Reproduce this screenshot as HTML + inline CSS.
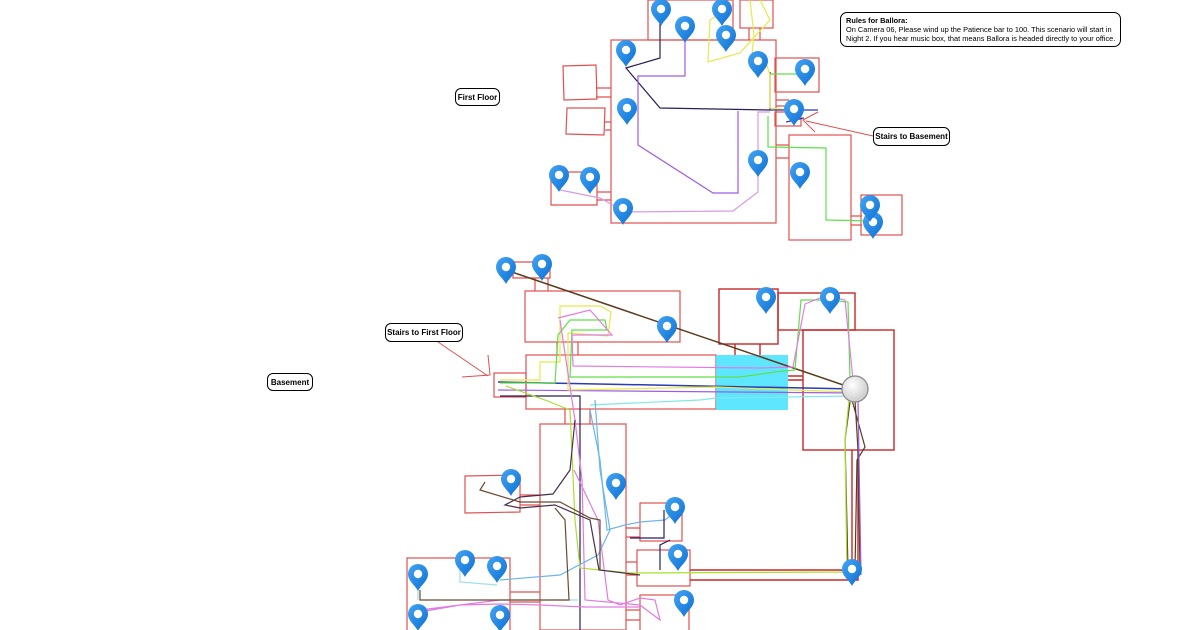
<!DOCTYPE html>
<html><head><meta charset="utf-8"><style>
html,body{margin:0;padding:0;background:#fff;width:1200px;height:630px;overflow:hidden}
svg{display:block}
.lbl{position:absolute;border:1.3px solid #000;border-radius:6px;background:#fff;font-family:"Liberation Sans",sans-serif;font-size:8px;font-weight:bold;display:flex;align-items:center;justify-content:center;box-sizing:border-box}
</style></head><body>
<svg width="1200" height="630" viewBox="0 0 1200 630" xmlns="http://www.w3.org/2000/svg">
<defs>
<linearGradient id="pg" x1="0" y1="0" x2="1" y2="1"><stop offset="0" stop-color="#42a5f5"/><stop offset="1" stop-color="#0d6fd1"/></linearGradient>
<radialGradient id="cg" cx="0.4" cy="0.35" r="0.7"><stop offset="0" stop-color="#fff"/><stop offset="1" stop-color="#c8c8c8"/></radialGradient>
<g id="pin"><path d="M0,15 C-3,9 -10,5 -10,-2 A10,10 0 1 1 10,-2 C10,5 3,9 0,15Z" fill="url(#pg)"/><circle cx="0" cy="-2" r="4.2" fill="#fff"/></g>
</defs>
<g fill="none" stroke="#e05050" stroke-width="1.2">
<!-- first floor -->
<rect x="648" y="0" width="85" height="40"/>
<rect x="740" y="0" width="33" height="28"/>
<rect x="611" y="40" width="165" height="183"/>
<rect x="775" y="58" width="44" height="34"/>
<path d="M563,66 L596,65 L597,99 L564,100Z M596,88 H611 M596,97 H611"/>
<path d="M567,108 L605,108 L604,135 L566,134Z M605,122 H611 M605,130 H611"/>
<rect x="775" y="112" width="26" height="14"/>
<rect x="789" y="135" width="62" height="105"/>
<rect x="861" y="195" width="41" height="40"/>
<path d="M551,172 H597 V205 H551Z M597,192 H611 M597,200 H611"/>
<path d="M776,145 H789 M776,158 H789 M851,216 H862 M851,225 H862 M749,28 V40 M760,28 V40 M776,100 H789 M776,106 H789"/>
<!-- basement -->
<rect x="525" y="291" width="155" height="51"/>
<path d="M513,262 H550 V278 H513Z M535,278 V291 M548,278 V291"/>
<rect x="526" y="355" width="190" height="54"/>
<rect x="494" y="373" width="32" height="24"/>
<rect x="540" y="424" width="86" height="206"/>
<path d="M565,409 V424 M590,409 V424 M557,342 V355 M578,342 V355"/>
<path d="M465,476 L520,475 L520,512 L465,513Z M520,495 H540 M520,505 H540"/>
<rect x="640" y="503" width="42" height="38"/>
<rect x="637" y="550" width="53" height="36"/>
<rect x="640" y="595" width="49" height="40"/>
<rect x="407" y="558" width="103" height="75"/>
<path d="M510,592 H540 M510,602 H540 M626,528 H640 M626,537 H640 M626,562 H637 M626,575 H637 M626,610 H640 M626,620 H640"/>
</g>
<g fill="none" stroke="#c62828" stroke-width="1.4">
<rect x="719" y="289" width="59" height="55"/>
<rect x="778" y="293" width="77" height="37"/>
<rect x="803" y="330" width="91" height="120"/>
<path d="M690,570 H852 V450 M690,580 H858 V450 M735,344 V355 M760,344 V355 M788,376 H803 M788,380 H803"/>
</g>
<rect x="716" y="355" width="72" height="55" fill="#4de3ff" opacity="0.9"/>
<!-- first floor paths -->
<g fill="none" stroke-width="1.2">
<path d="M660,20 V58 L626,68 L660,108 L770,110 V72" stroke="#2a1e5c"/>
<path d="M685,40 V76 L638,76 V145 L713,193 H738 V111" stroke="#9b5de5"/>
<path d="M560,190 L600,198 L622,210 L623,212 L733,211 L758,192 V112 H770" stroke="#d59be8"/>
<path d="M722,12 L710,20 L708,62 L740,53 L770,20 L760,0" stroke="#e8e84a"/>
<path d="M750,0 L754,35 L752,55 L765,60 L770,75 L770,108 L788,110" stroke="#e8e84a"/>
<path d="M770,74 H806 M768,116 V147 L826,148 V220 L873,221" stroke="#5ee04a"/>
<path d="M770,110 L818,110 M786,122 L804,118" stroke="#2b3bb0"/>
</g>
<!-- basement paths -->
<g fill="none" stroke-width="1.2">
<path d="M506,270 L855,389" stroke="#5a3a1a" stroke-width="1.5"/>
<path d="M498,382 L855,389" stroke="#2b3bb0" stroke-width="1.5"/>
<path d="M498,390 L855,393" stroke="#9b5de5"/>
<path d="M500,396 H580 V630" stroke="#2a1e5c"/>
<path d="M506,386 L545,400 L570,410 L575,520 L580,568 L630,573 L852,572" stroke="#a8e030"/>
<path d="M500,380 L540,380 V362 L560,362 V306 L600,306 L611,312 L608,336 L568,333 L568,390 L716,387 L790,390 L855,392" stroke="#e8e84a"/>
<path d="M500,383 L555,383 L558,335 L570,320 L605,320 L607,330 L572,330 L570,377 L740,377 L775,372 L795,370 L801,300 L826,300 L848,302 L850,380" stroke="#5ee04a"/>
<path d="M558,318 L590,310 L612,335 L572,335 L573,366 L760,368 L793,367 L805,304 L825,296 L845,300 L853,380" stroke="#e07ce0"/>
<path d="M560,320 L575,420 L582,480 L585,600 L640,605 L660,620 L655,600 L640,598 L620,605 L608,600 L598,520 L574,470" stroke="#e07ce0"/>
<path d="M500,600 L420,610 M420,612 L460,605 L500,604 L540,605 L585,607 L640,607" stroke="#e07ce0"/>
<path d="M590,405 L700,400 L716,398 L855,396" stroke="#7fe8e8"/>
<path d="M590,410 L600,460 L607,530 L625,525 L640,522 L665,520 L670,516" stroke="#6cb6e8"/>
<path d="M595,400 L600,470 L610,530 L598,555 L560,575 L500,580" stroke="#6cb6e8"/>
<path d="M497,585 L460,582 V568 M418,585 L418,600 M500,600 L578,600" stroke="#9fe0e0"/>
<path d="M575,420 L570,470 L553,494 L520,497 L505,505 L520,508 L555,505 L590,520 L599,570 L640,575" stroke="#4a2e4a"/>
<path d="M485,482 L480,490 L520,502 L560,502 L590,518 L600,520 L600,570 M555,508 L565,520 L569,600 L420,600 V590" stroke="#6b4a30"/>
<path d="M664,510 L664,538 L630,538 M670,540 L660,545 L660,570" stroke="#2a1e5c"/>
<path d="M855,400 L858,450 L860,570 M852,400 L865,447 L857,460 L855,570 M850,402 L845,440 L848,570" stroke="#5a3a1a"/>
<path d="M849,400 L845,440 L847,575" stroke="#a8e030"/>
<path d="M858,400 L861,575" stroke="#9b5de5"/>
</g>
<!-- arrows -->
<g fill="none" stroke="#e05050" stroke-width="1">
<path d="M873,136 L806,121 M818,112 L803,120 L815,132"/>
<path d="M438,342 L488,376 M488,355 L490,375 L462,377"/>
</g>
<circle cx="855" cy="389" r="13" fill="url(#cg)" stroke="#888" stroke-width="1.2"/>
<!-- pins -->
<g>
<use href="#pin" x="661" y="11"/><use href="#pin" x="722" y="11"/><use href="#pin" x="685" y="28"/>
<use href="#pin" x="726" y="37"/><use href="#pin" x="626" y="52"/><use href="#pin" x="758" y="63"/>
<use href="#pin" x="805" y="71"/><use href="#pin" x="794" y="111"/><use href="#pin" x="627" y="110"/>
<use href="#pin" x="758" y="162"/><use href="#pin" x="800" y="174"/><use href="#pin" x="559" y="177"/>
<use href="#pin" x="590" y="179"/><use href="#pin" x="623" y="210"/><use href="#pin" x="873" y="224"/>
<use href="#pin" x="870" y="207"/>
<use href="#pin" x="506" y="269"/><use href="#pin" x="542" y="266"/><use href="#pin" x="667" y="328"/>
<use href="#pin" x="766" y="299"/><use href="#pin" x="830" y="299"/><use href="#pin" x="511" y="481"/>
<use href="#pin" x="616" y="485"/><use href="#pin" x="675" y="509"/><use href="#pin" x="678" y="556"/>
<use href="#pin" x="852" y="571"/><use href="#pin" x="684" y="602"/><use href="#pin" x="465" y="562"/>
<use href="#pin" x="497" y="568"/><use href="#pin" x="418" y="576"/><use href="#pin" x="418" y="616"/>
<use href="#pin" x="500" y="617"/>
</g>
</svg>
<div class="lbl" style="left:455px;top:88px;width:45px;height:18px">First Floor</div>
<div class="lbl" style="left:873px;top:127px;width:77px;height:19px">Stairs to Basement</div>
<div class="lbl" style="left:385px;top:323px;width:78px;height:19px">Stairs to First Floor</div>
<div class="lbl" style="left:267px;top:373px;width:46px;height:18px">Basement</div>
<div class="lbl" style="left:840px;top:12px;width:281px;height:35px;display:block;padding:3px 0 0 5px;font-weight:normal;font-size:7.4px;line-height:9px;border-radius:7px"><b>Rules for Ballora:</b><br>On Camera 06, Please wind up the Patience bar to 100. This scenario will start in Night 2. If you hear music box, that means Ballora is headed directly to your office.</div>
</body></html>
